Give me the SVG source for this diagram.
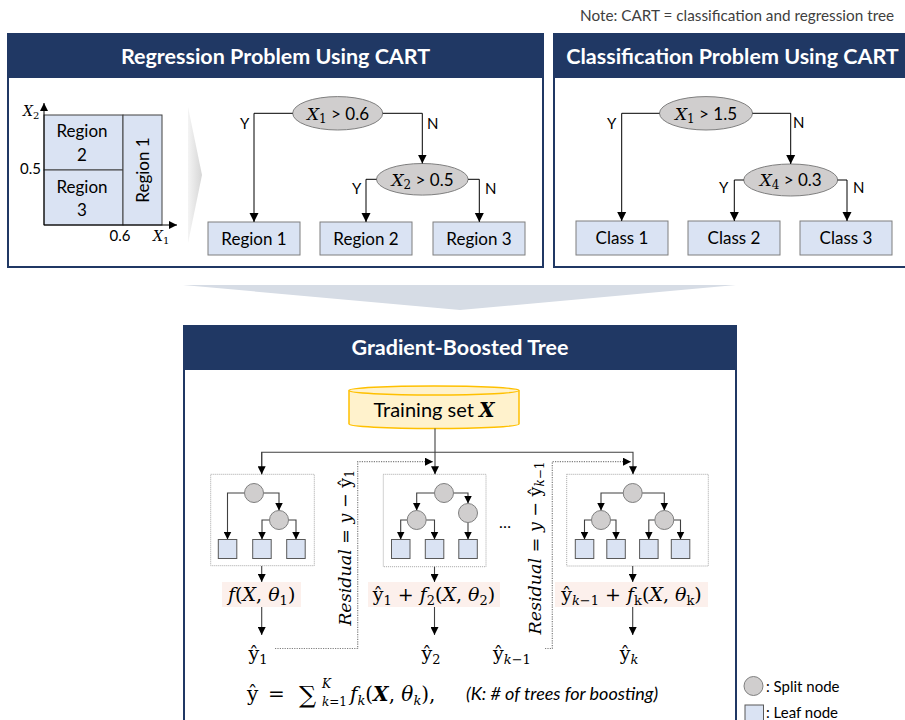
<svg xmlns="http://www.w3.org/2000/svg" width="905" height="720" viewBox="0 0 905 720">
  <style>
    .txt { font-family: Lato, "Open Sans", "Liberation Sans", sans-serif; fill: #000; }
    .title { font-family: Lato, "Open Sans", "Liberation Sans", sans-serif; font-weight: bold; font-size: 21.5px; fill: #fff; text-anchor: middle; }
    .math { font-family: "DejaVu Serif", "Liberation Serif", serif; font-style: italic; fill: #000; }
    .n { font-style: normal; }
    .panel { fill: #fff; stroke: #203864; stroke-width: 2; }
    .header { fill: #203864; }
    .leaf { fill: #dae3f3; stroke: #595959; stroke-width: 1; }
    .box { fill: #dae3f3; stroke: #7f7f7f; stroke-width: 1; }
    .split { fill: #d0cece; stroke: #7f7f7f; stroke-width: 1; }
    .wire { fill: none; stroke: #000; stroke-width: 1; }
    .wire2 { fill: none; stroke: #404040; stroke-width: 1.1; }
    .dots { fill: none; stroke: #7f7f7f; stroke-width: 1.2; stroke-dasharray: 1.2 1.2; }
    .frame { fill: #fff; stroke: #a6a6a6; stroke-width: 1; stroke-dasharray: 1 1; }
    .tag { fill: #fcf0ec; }
    .lbl { font-family: Lato, "Open Sans", "Liberation Sans", sans-serif; font-size: 17px; text-anchor: middle; }
    .yn { font-family: Lato, "Open Sans", "Liberation Sans", sans-serif; font-size: 15px; }
  </style>
  <defs>
    <marker id="ah" viewBox="0 0 10 10" refX="10" refY="5" markerWidth="9" markerHeight="10" markerUnits="userSpaceOnUse" orient="auto">
      <path d="M0,0 L10,5 L0,10 Z" fill="#000"/>
    </marker>
    <marker id="ahs" viewBox="0 0 10 10" refX="10" refY="5" markerWidth="8" markerHeight="8" markerUnits="userSpaceOnUse" orient="auto">
      <path d="M0,0 L10,5 L0,10 Z" fill="#000"/>
    </marker>
    <linearGradient id="chev" x1="0" y1="0" x2="1" y2="0">
      <stop offset="0" stop-color="#f4f4f4"/>
      <stop offset="1" stop-color="#d6d6d6"/>
    </linearGradient>
  </defs>

  <!-- footnote -->
  <text class="txt" x="580" y="21" font-size="15.3" style="fill:#404040">Note: CART = classification and regression tree</text>

  <!-- regression panel -->
  <g id="regression-panel">
    <rect class="panel" x="8" y="34" width="535" height="233"/>
    <rect class="header" x="8" y="34" width="535" height="44"/>
    <text class="title" x="275.5" y="63.5">Regression Problem Using CART</text>

    <!-- partitioned feature space -->
    <g id="feature-space">
      <rect class="box" x="44" y="115" width="79" height="55" style="stroke:#404040"/>
      <rect class="box" x="44" y="170" width="79" height="55" style="stroke:#404040"/>
      <rect class="box" x="123" y="115" width="39" height="110" style="stroke:#404040"/>
      <line class="wire" x1="44" y1="225" x2="44" y2="103" marker-end="url(#ahs)"/>
      <line class="wire" x1="44" y1="225" x2="177" y2="225" marker-end="url(#ahs)"/>
      <text class="lbl" x="82" y="137">Region</text>
      <text class="lbl" x="82" y="160.5">2</text>
      <text class="lbl" x="82" y="192.5">Region</text>
      <text class="lbl" x="82" y="216">3</text>
      <text class="lbl" transform="translate(149,170) rotate(-90)">Region 1</text>
      <text class="txt" x="41" y="174" font-size="15" text-anchor="end">0.5</text>
      <text class="txt" x="120" y="241" font-size="15" text-anchor="middle">0.6</text>
      <text class="math" x="153" y="241" font-size="14">X<tspan font-size="10" dy="3" class="n">1</tspan></text>
      <text class="math" x="23" y="116" font-size="14">X<tspan font-size="10" dy="3" class="n">2</tspan></text>
    </g>

    <polygon points="188,107 202,175 188,243" fill="url(#chev)"/>

    <g id="reg-split-1">
      <ellipse class="split" cx="337.7" cy="113.3" rx="45" ry="16.7"/>
      <text class="math" x="338" y="119.5" font-size="17" text-anchor="middle">X<tspan font-size="12" dy="3" class="n">1</tspan><tspan dy="-3" class="txt n" font-size="17"> &gt; 0.6</tspan></text>
    </g>
    <g id="reg-split-2">
      <ellipse class="split" cx="422.3" cy="179.3" rx="45.8" ry="15.8"/>
      <text class="math" x="422.5" y="185.5" font-size="17" text-anchor="middle">X<tspan font-size="12" dy="3" class="n">2</tspan><tspan dy="-3" class="txt n" font-size="17"> &gt; 0.5</tspan></text>
    </g>
    <g id="reg-leaf-1">
      <rect class="box" x="208" y="222" width="92" height="33"/>
      <text class="lbl" x="254" y="244.5">Region 1</text>
    </g>
    <g id="reg-leaf-2">
      <rect class="box" x="320" y="222" width="92" height="33"/>
      <text class="lbl" x="366" y="244.5">Region 2</text>
    </g>
    <g id="reg-leaf-3">
      <rect class="box" x="433" y="222" width="92" height="33"/>
      <text class="lbl" x="479" y="244.5">Region 3</text>
    </g>
  </g>

  <!-- classification panel -->
  <g id="classification-panel">
    <rect class="panel" x="554" y="34" width="362" height="233"/>
    <rect class="header" x="554" y="34" width="362" height="44"/>
    <text class="title" x="732.5" y="63.5">Classification Problem Using CART</text>

    <g id="cls-split-1">
      <ellipse class="split" cx="706" cy="113.3" rx="46.5" ry="16.7"/>
      <text class="math" x="706" y="119.5" font-size="17" text-anchor="middle">X<tspan font-size="12" dy="3" class="n">1</tspan><tspan dy="-3" class="txt n" font-size="17"> &gt; 1.5</tspan></text>
    </g>
    <g id="cls-split-2">
      <ellipse class="split" cx="790.7" cy="180" rx="47" ry="16"/>
      <text class="math" x="790.7" y="186" font-size="17" text-anchor="middle">X<tspan font-size="12" dy="3" class="n">4</tspan><tspan dy="-3" class="txt n" font-size="17"> &gt; 0.3</tspan></text>
    </g>
    <g id="cls-leaf-1">
      <rect class="box" x="576" y="221" width="92" height="34"/>
      <text class="lbl" x="622" y="244">Class 1</text>
    </g>
    <g id="cls-leaf-2">
      <rect class="box" x="688" y="221" width="92" height="34"/>
      <text class="lbl" x="734" y="244">Class 2</text>
    </g>
    <g id="cls-leaf-3">
      <rect class="box" x="800" y="221" width="92" height="34"/>
      <text class="lbl" x="846" y="244">Class 3</text>
    </g>
  </g>

  <!-- wide arrow into the boosting panel -->
  <polygon points="183,285 736,285 460,310" fill="#d6dce5"/>

  <!-- gradient boosted tree panel -->
  <g id="gbt-panel">
    <rect class="panel" x="184" y="326" width="552" height="400"/>
    <rect class="header" x="184" y="326" width="552" height="44"/>
    <text class="title" x="460" y="355">Gradient-Boosted Tree</text>
  </g>

  <g id="training-set">
    <path d="M349,390.5 A85,4.5 0 0 1 519,390.5 V424 A85,4.5 0 0 1 349,424 Z" fill="#fff2cc" stroke="#ffc000" stroke-width="1.5"/>
    <path d="M349,390.5 A85,4.5 0 0 0 519,390.5" fill="none" stroke="#ffc000" stroke-width="1.5"/>
    <text class="txt" x="434" y="417" font-size="20" text-anchor="middle">Training set <tspan class="math" font-weight="bold">X</tspan></text>
  </g>

  <!-- tree 1 -->
  <g id="tree-1">
    <rect class="frame" x="210.7" y="474.3" width="103.6" height="91.4"/>
    <path class="wire2" d="M244.5,493 H227.5 V539.5" marker-end="url(#ahs)"/>
    <path class="wire2" d="M263.5,493 H279 V510.5" marker-end="url(#ahs)"/>
    <path class="wire2" d="M269.5,520 H262 V539.5" marker-end="url(#ahs)"/>
    <path class="wire2" d="M288.5,520 H296 V539.5" marker-end="url(#ahs)"/>
    <circle class="split" cx="254" cy="493" r="9.5"/>
    <circle class="split" cx="279" cy="520" r="9.5"/>
    <rect class="leaf" x="218.3" y="539.5" width="18.5" height="19"/>
    <rect class="leaf" x="252.7" y="539.5" width="18.5" height="19"/>
    <rect class="leaf" x="286.7" y="539.5" width="18.5" height="19"/>
  </g>

  <!-- tree 2 -->
  <g id="tree-2">
    <rect class="frame" x="383.3" y="474.3" width="102.7" height="92.4"/>
    <path class="wire2" d="M434.5,493 H416.7 V510.5" marker-end="url(#ahs)"/>
    <path class="wire2" d="M453.5,493 H468 V503.5" marker-end="url(#ahs)"/>
    <path class="wire2" d="M407.2,520 H400.7 V539.5" marker-end="url(#ahs)"/>
    <path class="wire2" d="M426.2,520 H434.5 V539.5" marker-end="url(#ahs)"/>
    <path class="wire2" d="M468,522.5 V539.5" marker-end="url(#ahs)"/>
    <circle class="split" cx="444" cy="493" r="9.5"/>
    <circle class="split" cx="416.7" cy="520" r="9.5"/>
    <circle class="split" cx="468" cy="513" r="9.5"/>
    <rect class="leaf" x="391.5" y="539.5" width="18.5" height="19"/>
    <rect class="leaf" x="425.3" y="539.5" width="18.5" height="19"/>
    <rect class="leaf" x="458.8" y="539.5" width="18.5" height="19"/>
  </g>

  <text class="txt" x="505" y="528" font-size="16" text-anchor="middle">…</text>

  <!-- tree K -->
  <g id="tree-k">
    <rect class="frame" x="566.7" y="474.3" width="141.6" height="91.7"/>
    <path class="wire2" d="M623.2,493 H601 V510.5" marker-end="url(#ahs)"/>
    <path class="wire2" d="M642.2,493 H664.3 V510.5" marker-end="url(#ahs)"/>
    <path class="wire2" d="M591.5,520 H584.5 V539.5" marker-end="url(#ahs)"/>
    <path class="wire2" d="M610.5,520 H616 V539.5" marker-end="url(#ahs)"/>
    <path class="wire2" d="M654.8,520 H648.8 V539.5" marker-end="url(#ahs)"/>
    <path class="wire2" d="M673.8,520 H680.5 V539.5" marker-end="url(#ahs)"/>
    <circle class="split" cx="632.7" cy="493" r="9.5"/>
    <circle class="split" cx="601" cy="520" r="9.5"/>
    <circle class="split" cx="664.3" cy="520" r="9.5"/>
    <rect class="leaf" x="575.3" y="539.5" width="18.5" height="19"/>
    <rect class="leaf" x="606.8" y="539.5" width="18.5" height="19"/>
    <rect class="leaf" x="639.6" y="539.5" width="18.5" height="19"/>
    <rect class="leaf" x="671.3" y="539.5" width="18.5" height="19"/>
  </g>

  <!-- per-stage outputs -->
  <g id="out-1">
    <rect class="tag" x="222" y="582" width="79" height="25"/>
    <text class="math" x="261.7" y="601" font-size="19" text-anchor="middle">f<tspan class="n">(</tspan>X<tspan class="n">, </tspan>θ<tspan font-size="13" dy="4" class="n">1</tspan><tspan dy="-4" class="n">)</tspan></text>
  </g>
  <g id="out-2">
    <rect class="tag" x="368" y="582" width="132" height="25"/>
    <text class="math" x="434" y="601" font-size="19" text-anchor="middle"><tspan class="n">ŷ</tspan><tspan font-size="13" dy="4" class="n">1</tspan><tspan dy="-4" class="n"> + </tspan>f<tspan font-size="13" dy="4" class="n">2</tspan><tspan dy="-4" class="n">(</tspan>X<tspan class="n">, </tspan>θ<tspan font-size="13" dy="4" class="n">2</tspan><tspan dy="-4" class="n">)</tspan></text>
  </g>
  <g id="out-k">
    <rect class="tag" x="555" y="582" width="153" height="25"/>
    <text class="math" x="631.5" y="601" font-size="19" text-anchor="middle"><tspan class="n">ŷ</tspan><tspan font-size="13" dy="4">k</tspan><tspan font-size="13" class="n">−1</tspan><tspan dy="-4" class="n"> + </tspan>f<tspan font-size="13" dy="4" class="n">k</tspan><tspan dy="-4" class="n">(</tspan>X<tspan class="n">, </tspan>θ<tspan font-size="13" dy="4" class="n">k</tspan><tspan dy="-4" class="n">)</tspan></text>
  </g>

  <!-- running predictions -->
  <g id="pred-1">
    <text class="math" x="258" y="660" font-size="19" text-anchor="middle"><tspan class="n">ŷ</tspan><tspan font-size="13" dy="4" class="n">1</tspan></text>
  </g>
  <g id="pred-2">
    <text class="math" x="431" y="660" font-size="19" text-anchor="middle"><tspan class="n">ŷ</tspan><tspan font-size="13" dy="4" class="n">2</tspan></text>
  </g>
  <g id="pred-k-1">
    <text class="math" x="512" y="660" font-size="19" text-anchor="middle"><tspan class="n">ŷ</tspan><tspan font-size="13" dy="4">k</tspan><tspan font-size="13" class="n">−1</tspan></text>
  </g>
  <g id="pred-k">
    <text class="math" x="629" y="660" font-size="19" text-anchor="middle"><tspan class="n">ŷ</tspan><tspan font-size="13" dy="4">k</tspan></text>
  </g>

  <!-- residual labels -->
  <text class="math" font-size="17.5" text-anchor="middle" transform="translate(351,548) rotate(-90)">Residual <tspan class="n">=</tspan> y <tspan class="n">−</tspan> <tspan class="n">ŷ</tspan><tspan font-size="12" dy="3" class="n">1</tspan></text>
  <text class="math" font-size="17.5" text-anchor="middle" transform="translate(541,548) rotate(-90)">Residual <tspan class="n">=</tspan> y <tspan class="n">−</tspan> <tspan class="n">ŷ</tspan><tspan font-size="12" dy="3">k</tspan><tspan font-size="12" class="n">−1</tspan></text>

  <!-- connectors -->
  <g id="connectors">
    <!-- regression tree -->
    <path class="wire" d="M292.7,113.3 H254 V222" marker-end="url(#ah)"/>
    <path class="wire" d="M382.7,113.3 H422.3 V163.5" marker-end="url(#ah)"/>
    <path class="wire" d="M376.5,179.3 H366 V222" marker-end="url(#ah)"/>
    <path class="wire" d="M468.1,179.3 H479.3 V222" marker-end="url(#ah)"/>
    <text class="yn" x="240" y="128.5">Y</text>
    <text class="yn" x="427" y="128.5">N</text>
    <text class="yn" x="352" y="193.5">Y</text>
    <text class="yn" x="485" y="193.5">N</text>
    <!-- classification tree -->
    <path class="wire" d="M659.5,113.3 H621.7 V221" marker-end="url(#ah)"/>
    <path class="wire" d="M752.5,113.3 H790.7 V164" marker-end="url(#ah)"/>
    <path class="wire" d="M743.7,180 H734.3 V221" marker-end="url(#ah)"/>
    <path class="wire" d="M837.7,180 H847 V221" marker-end="url(#ah)"/>
    <text class="yn" x="607" y="128.5">Y</text>
    <text class="yn" x="793" y="127.5">N</text>
    <text class="yn" x="719" y="192.5">Y</text>
    <text class="yn" x="853" y="192.5">N</text>
    <!-- training set fan-out -->
    <path class="wire2" d="M435,428.5 V474.3" marker-end="url(#ahs)"/>
    <path class="wire2" d="M261.7,474.3 V452.3 H633 V474.3" marker-end="url(#ahs)"/>
    <path class="wire2" d="M261.7,452.3 V474.3" marker-end="url(#ahs)"/>
    <!-- tree outputs -->
    <path class="wire2" d="M261.7,566 V582" marker-end="url(#ahs)"/>
    <path class="wire2" d="M434.5,566.7 V582" marker-end="url(#ahs)"/>
    <path class="wire2" d="M632.7,566 V582" marker-end="url(#ahs)"/>
    <path class="wire2" d="M261.7,607 V635" marker-end="url(#ahs)"/>
    <path class="wire2" d="M434.5,607 V635" marker-end="url(#ahs)"/>
    <path class="wire2" d="M632.7,607 V635" marker-end="url(#ahs)"/>
    <!-- residual feedback -->
    <path class="dots" d="M275,648.5 H357.7 V461.7 H433" marker-end="url(#ahs)"/>
    <path class="dots" d="M545,648.5 H552.3 V461.7 H631" marker-end="url(#ahs)"/>
  </g>

  <!-- ensemble formula -->
  <text class="math" x="247" y="701" font-size="20"><tspan class="n">ŷ</tspan></text>
  <text class="math" x="268" y="701" font-size="20"><tspan class="n">=</tspan></text>
  <text class="math" x="299" y="703" font-size="24"><tspan class="n">∑</tspan></text>
  <text class="math" x="322" y="688" font-size="12">K</text>
  <text class="math" x="322" y="706" font-size="12">k<tspan class="n">=1</tspan></text>
  <text class="math" x="350" y="701" font-size="20">f<tspan font-size="13" dy="4">k</tspan><tspan dy="-4" class="n">(</tspan><tspan font-weight="bold">X</tspan><tspan class="n">, </tspan>θ<tspan font-size="13" dy="4">k</tspan><tspan dy="-4" class="n">),</tspan></text>
  <text class="txt" x="466" y="700" font-size="18" font-style="italic">(K: # of trees for boosting)</text>

  <!-- legend -->
  <g id="legend">
    <circle class="split" cx="753.5" cy="686" r="9.5"/>
    <text class="txt" x="766" y="692" font-size="15">: Split node</text>
    <rect class="leaf" x="745" y="705" width="18.5" height="18"/>
    <text class="txt" x="766" y="718" font-size="15">: Leaf node</text>
  </g>
</svg>
